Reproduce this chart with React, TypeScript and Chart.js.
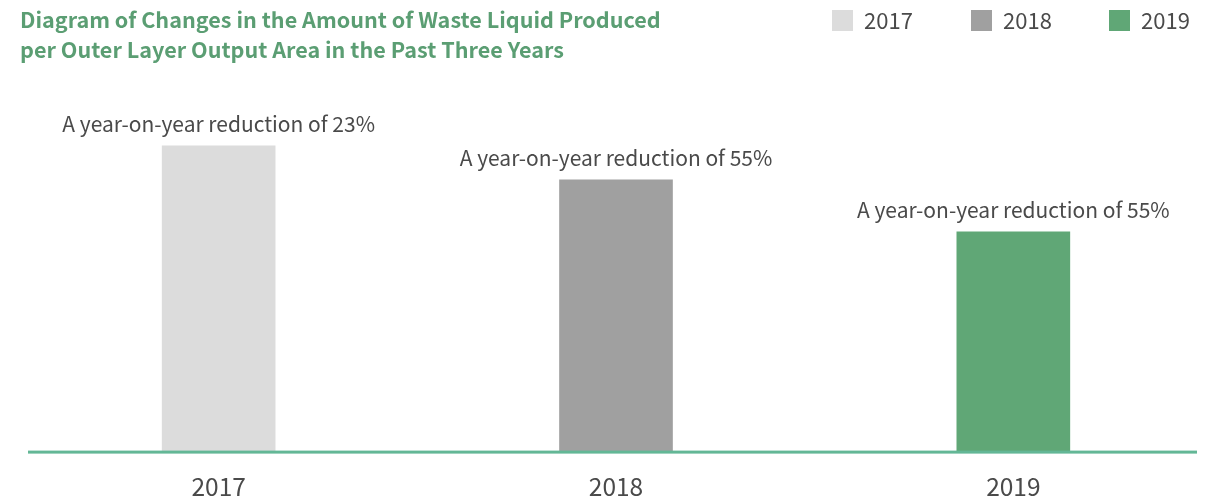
import React, { useEffect, useRef } from "react";
import { Chart, registerables } from "chart.js";

Chart.register(...registerables);

const TITLE_LINES = [
  "Diagram of Changes in the Amount of Waste Liquid Produced",
  "per Outer Layer Output Area in the Past Three Years",
];
const YEARS = ["2017", "2018", "2019"];
const VALUES = [3.06, 2.72, 2.2];
const NOTES = [
  "A year-on-year reduction of 23%",
  "A year-on-year reduction of 55%",
  "A year-on-year reduction of 55%",
];
const COLORS = ["#dcdcdc", "#a0a0a0", "#60a776"];

const FONT = "'Noto Sans CJK SC', 'Noto Sans', sans-serif";

export default function App() {
  const ref = useRef<HTMLCanvasElement | null>(null);

  useEffect(() => {
    if (!ref.current) return;

    const extras = {
      id: "extras",
      afterDatasetsDraw(chart: any) {
        const { ctx, chartArea } = chart;
        ctx.save();
        // axis line
        ctx.fillStyle = "#63b796";
        ctx.fillRect(28, chartArea.bottom - 1, 1197 - 28, 3);
        // notes above bars
        const meta = chart.getDatasetMeta(0);
        ctx.font = `400 21px ${FONT}`;
        ctx.fillStyle = "#4a4a4a";
        ctx.textAlign = "center";
        ctx.textBaseline = "alphabetic";
        meta.data.forEach((bar: any, i: number) => {
          ctx.fillText(NOTES[i], bar.x, bar.y - 14);
        });
        // legend
        const boxX = [832, 971, 1109];
        ctx.font = `400 22px ${FONT}`;
        ctx.textAlign = "left";
        ctx.textBaseline = "middle";
        YEARS.forEach((y, i) => {
          ctx.fillStyle = COLORS[i];
          ctx.fillRect(boxX[i], 10, 21, 21);
          ctx.fillStyle = "#4a4a4a";
          ctx.fillText(y, boxX[i] + 32, 21);
        });
        ctx.restore();
      },
    };

    const chart = new Chart(ref.current, {
      type: "bar",
      data: {
        labels: YEARS,
        datasets: [
          {
            data: VALUES,
            backgroundColor: COLORS,
            barThickness: 113,
            borderWidth: 0,
          },
        ],
      },
      options: {
        animation: false,
        responsive: true,
        maintainAspectRatio: false,
        layout: { padding: { left: 20, right: 0, top: 0, bottom: -19 } },
        plugins: {
          legend: { display: false },
          tooltip: { enabled: false },
          title: {
            display: true,
            text: TITLE_LINES,
            align: "start",
            color: "#5b9e73",
            font: { family: FONT, size: 21.6, weight: "bold", lineHeight: 30 / 21.6 },
            padding: { top: 5, bottom: 35 },
          },
        },
        scales: {
          x: {
            grid: { display: false, drawTicks: false },
            border: { display: false },
            ticks: {
              color: "#4a4a4a",
              font: { family: FONT, size: 24.5 },
              padding: 20,
            },
          },
          y: {
            display: false,
            min: 0,
            max: 3.52,
          },
        },
      },
      plugins: [extras],
    });

    return () => chart.destroy();
  }, []);

  return (
    <div style={{ position: "absolute", left: 0, top: 0, width: 1212, height: 502, background: "#fff" }}>
      <canvas ref={ref} />
    </div>
  );
}
